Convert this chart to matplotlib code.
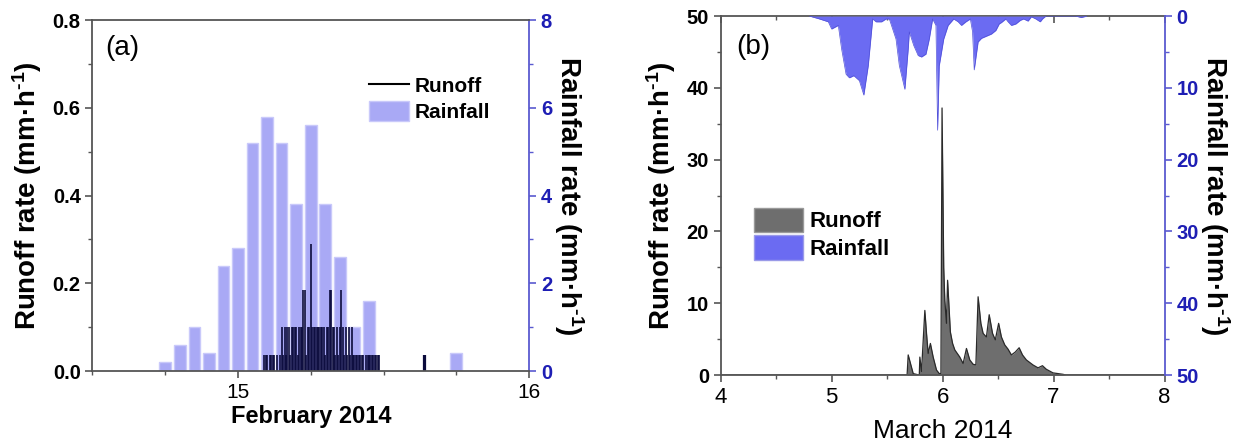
import numpy as np
import matplotlib
matplotlib.use('Agg')
import matplotlib.pyplot as plt
from matplotlib.ticker import MultipleLocator
from matplotlib.patches import Patch
from matplotlib.lines import Line2D

plt.rcParams['font.family'] = ['Liberation Sans', 'DejaVu Sans']
plt.rcParams['mathtext.fontset'] = 'custom'
plt.rcParams['mathtext.rm'] = 'Liberation Sans:bold'
plt.rcParams['mathtext.it'] = 'Liberation Sans:bold'
plt.rcParams['mathtext.bf'] = 'Liberation Sans:bold'

# ---------------- Panel (a) data: February 2014 ----------------
rain_a_time = [14.75, 14.80, 14.85, 14.90, 14.95, 15.00, 15.05, 15.10,
               15.15, 15.20, 15.25, 15.30, 15.35, 15.40, 15.45, 15.75]
rain_a_rate = [0.2, 0.6, 1.0, 0.4, 2.4, 2.8, 5.2, 5.8,
               5.2, 3.8, 5.6, 3.8, 2.6, 1.0, 1.6, 0.4]

runoff_a_start = 15.09
runoff_a_step = 0.005
runoff_a_rate = [0.037, 0.037, 0.037, 0, 0.037, 0.037, 0.037, 0.037, 0, 0.037, 0, 0.037,
                 0.1, 0.037, 0.1, 0.037, 0.1, 0.1, 0.037, 0.1, 0.1, 0.1, 0.1, 0.037,
                 0.1, 0.1, 0.1, 0.185, 0.185, 0.037, 0.1, 0.1, 0.29, 0.1, 0.1, 0.1,
                 0.1, 0.1, 0.1, 0.1, 0.1, 0.1, 0.037, 0.1, 0.1, 0.185, 0.185, 0.1,
                 0.1, 0.037, 0.1, 0.037, 0.1, 0.185, 0.1, 0.037, 0.1, 0.037, 0.1, 0.037,
                 0.1, 0.037, 0.037, 0.037, 0.037, 0.037, 0.037, 0.037, 0.037, 0, 0.037, 0.037,
                 0.037, 0.037, 0.037, 0.037, 0.037, 0.037, 0.037, 0.037]
runoff_a_extra_time = [15.638, 15.641]
runoff_a_extra_rate = [0.037, 0.037]

# ---------------- Panel (b) data: March 2014 ----------------
rain_b_time = [4.80, 4.89, 4.97, 5.00, 5.06, 5.09, 5.13, 5.16, 5.20, 5.25, 5.29, 5.33,
               5.37, 5.40, 5.45, 5.49, 5.52, 5.58, 5.61, 5.66, 5.69, 5.70, 5.74, 5.78,
               5.81, 5.85, 5.88, 5.91, 5.94, 5.955, 5.97, 6.01, 6.05, 6.10, 6.14, 6.17,
               6.21, 6.25, 6.27, 6.285, 6.32, 6.35, 6.38, 6.41, 6.44, 6.48, 6.51, 6.53,
               6.57, 6.59, 6.62, 6.66, 6.70, 6.73, 6.77, 6.80, 6.84, 6.88, 6.90, 6.93,
               7.20, 7.25, 7.30]
rain_b_rate = [0.0, 0.4, 0.8, 1.8, 1.3, 4.6, 8.1, 8.6, 8.3, 9.0, 11.0, 6.9,
               0.4, 0.8, 0.8, 0.4, 0.4, 3.2, 6.9, 10.2, 4.6, 2.2, 4.1, 5.5,
               5.7, 5.3, 3.2, 0.4, 1.3, 15.9, 6.9, 3.2, 1.3, 0.4, 0.8, 1.3,
               0.8, 0.4, 2.2, 7.5, 3.6, 3.1, 2.9, 2.7, 2.5, 2.0, 1.1, 0.9,
               0.4, 0.8, 1.3, 1.1, 0.6, 0.4, 0.7, 0.1, 0.4, 0.8, 0.4, 0.0,
               0.0, 0.2, 0.0]

runoff_b_time = [4.00, 5.68, 5.69, 5.735, 5.79, 5.795, 5.81, 5.84, 5.855, 5.87, 5.89, 5.915,
                 5.945, 5.97, 5.985, 5.995, 6.01, 6.02, 6.035, 6.045, 6.07, 6.09, 6.11, 6.155,
                 6.185, 6.215, 6.245, 6.275, 6.30, 6.32, 6.345, 6.365, 6.395, 6.42, 6.45, 6.475,
                 6.505, 6.53, 6.56, 6.59, 6.62, 6.655, 6.69, 6.72, 6.755, 6.815, 6.86, 6.90,
                 6.935, 6.995, 7.085, 7.11, 8.00]
runoff_b_rate = [0.0, 0.0, 2.8, 0.2, 0.0, 2.5, 0.5, 9.0, 5.8, 3.0, 4.4, 2.5,
                 0.7, 0.2, 0.2, 37.2, 15.0, 10.4, 7.2, 13.2, 6.0, 4.4, 3.5, 2.5,
                 1.6, 3.7, 2.1, 1.5, 1.4, 10.9, 7.2, 5.8, 5.3, 8.4, 5.8, 4.9,
                 7.2, 5.3, 4.2, 3.6, 2.8, 3.2, 3.8, 2.8, 2.1, 1.4, 1.0, 1.3,
                 0.8, 0.3, 0.1, 0.0, 0.0]

# ---------------- styles ----------------
BLUE_TXT = '#1e1eb4'
BLUE_SPINE = '#5a5ad0'
GREY_SPINE = '#555555'
RAIN_A = '#a9a9f5'
RAIN_B = '#6b6bf2'
RUNOFF_A = '#0b0b3c'
RUNOFF_B = '#6e6e6e'
TICK_FS = 14.5
LABEL_FS = 20
YLAB = 'Runoff rate (mm·h$^{\\text{-1}}$)'
RLAB = 'Rainfall rate (mm·h$^{\\text{-1}}$)'

fig = plt.figure(figsize=(12.46, 4.47), dpi=100)

def style_axes(ax, axr):
    for s in ['left', 'bottom', 'top']:
        ax.spines[s].set_color(GREY_SPINE)
        ax.spines[s].set_linewidth(1.3)
    axr.spines['right'].set_color(BLUE_SPINE)
    axr.spines['right'].set_linewidth(1.3)
    for s in ['left', 'bottom', 'top']:
        axr.spines[s].set_visible(False)
    ax.spines['right'].set_visible(False)
    ax.tick_params(axis='both', which='major', direction='out', length=5, width=1.2,
                   colors=GREY_SPINE, labelcolor='black', labelsize=TICK_FS)
    ax.tick_params(axis='both', which='minor', direction='out', length=3, width=1.0,
                   colors=GREY_SPINE)
    axr.tick_params(axis='y', which='major', direction='out', length=5, width=1.2,
                    colors=BLUE_SPINE, labelcolor=BLUE_TXT, labelsize=TICK_FS)
    axr.tick_params(axis='y', which='minor', direction='out', length=3, width=1.0,
                    colors=BLUE_SPINE)
    for lab in ax.get_yticklabels():
        lab.set_fontweight('bold')
    for lab in axr.get_yticklabels():
        lab.set_fontweight('bold')

# ================= Panel (a) =================
axa = fig.add_axes([0.0742, 0.170, 0.3504, 0.785])
axa_r = axa.twinx()
axa_r.bar(rain_a_time, rain_a_rate, width=0.04, color=RAIN_A,
          edgecolor='#c9c9fa', linewidth=1.0, zorder=1)
t_a = runoff_a_start + runoff_a_step * np.arange(len(runoff_a_rate))
axa.vlines(t_a, 0, runoff_a_rate, colors=RUNOFF_A, linewidth=1.2)
axa.vlines(runoff_a_extra_time, 0, runoff_a_extra_rate, colors=RUNOFF_A, linewidth=1.6)
axa.set_zorder(axa_r.get_zorder() + 1)
axa.patch.set_visible(False)

axa.set_xlim(14.5, 16)
axa.set_ylim(0, 0.8)
axa_r.set_ylim(0, 8)
axa.set_xticks([15, 16])
axa.xaxis.set_minor_locator(MultipleLocator(0.25))
axa.set_yticks([0, 0.2, 0.4, 0.6, 0.8])
axa.set_yticklabels(['0.0', '0.2', '0.4', '0.6', '0.8'])
axa.yaxis.set_minor_locator(MultipleLocator(0.1))
axa_r.set_yticks([0, 2, 4, 6, 8])
axa_r.yaxis.set_minor_locator(MultipleLocator(1))
style_axes(axa, axa_r)
axa.tick_params(axis='x', labelsize=15)
axa.set_xlabel('February 2014', fontsize=17, fontweight='bold', labelpad=2)
axa.set_ylabel(YLAB, fontsize=LABEL_FS, fontweight='bold', labelpad=6)
axa_r.set_ylabel(RLAB, fontsize=LABEL_FS, fontweight='bold', rotation=270, labelpad=24)
axa.text(0.03, 0.92, '(a)', transform=axa.transAxes, fontsize=20, va='center', ha='left')
handles_a = [Line2D([0], [0], color='black', lw=1.5),
             Patch(facecolor=RAIN_A, edgecolor='#c9c9fa')]
axa.legend(handles_a, ['Runoff', 'Rainfall'], loc='upper left', bbox_to_anchor=(0.6, 0.885),
           frameon=False, prop={'weight': 'bold', 'size': 15}, handlelength=1.9,
           handleheight=1.1, labelspacing=0.25, handletextpad=0.3, borderpad=0.2)

# ================= Panel (b) =================
axb = fig.add_axes([0.5784, 0.161, 0.3562, 0.803])
axb_r = axb.twinx()
axb.fill_between(runoff_b_time, 0, runoff_b_rate, color=RUNOFF_B, linewidth=0)
axb.plot(runoff_b_time, runoff_b_rate, color='#2a2a2a', lw=0.9)
axb_r.fill_between(rain_b_time, 0, rain_b_rate, color=RAIN_B, linewidth=0)
axb_r.plot(rain_b_time, rain_b_rate, color='#5050d8', lw=0.5)

axb.set_xlim(4, 8)
axb.set_ylim(0, 50)
axb_r.set_ylim(50, 0)
axb.set_xticks([4, 5, 6, 7, 8])
axb.xaxis.set_minor_locator(MultipleLocator(0.5))
axb.set_yticks([0, 10, 20, 30, 40, 50])
axb.yaxis.set_minor_locator(MultipleLocator(5))
axb_r.set_yticks([0, 10, 20, 30, 40, 50])
axb_r.yaxis.set_minor_locator(MultipleLocator(5))
style_axes(axb, axb_r)
axb.tick_params(axis='x', labelsize=16)
sec = axb.secondary_xaxis('top')
sec.set_xticks([4, 5, 6, 7, 8])
sec.xaxis.set_minor_locator(MultipleLocator(0.5))
sec.tick_params(axis='x', which='major', direction='in', length=5, width=1.2,
                colors=GREY_SPINE, labeltop=False)
sec.tick_params(axis='x', which='minor', direction='in', length=3, width=1.0,
                colors=GREY_SPINE)
sec.spines['top'].set_visible(False)
axb.set_xlabel('March 2014', fontsize=19, labelpad=8)
axb.set_ylabel(YLAB, fontsize=LABEL_FS, fontweight='bold', labelpad=6)
axb_r.set_ylabel(RLAB, fontsize=LABEL_FS, fontweight='bold', rotation=270, labelpad=24)
axb.text(0.035, 0.915, '(b)', transform=axb.transAxes, fontsize=20, va='center', ha='left')
handles_b = [Patch(facecolor=RUNOFF_B, edgecolor='#9a9a9a'),
             Patch(facecolor=RAIN_B, edgecolor='#9a9ae8')]
axb_r.legend(handles_b, ['Runoff', 'Rainfall'], loc='upper left', bbox_to_anchor=(0.04, 0.51),
             frameon=False, prop={'weight': 'bold', 'size': 16}, handlelength=2.2,
             handleheight=1.35, labelspacing=0.1, handletextpad=0.3, borderpad=0.2)

fig.savefig('out.png', dpi=100)
